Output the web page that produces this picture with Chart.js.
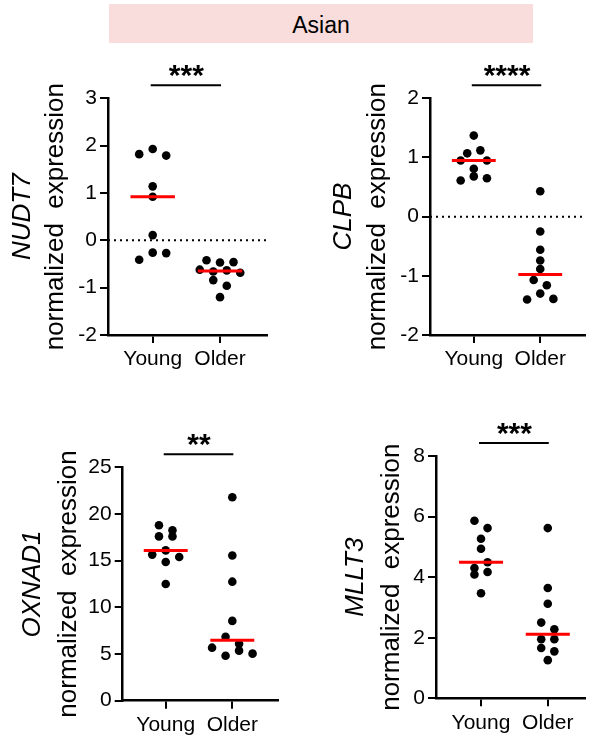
<!DOCTYPE html>
<html><head><meta charset="utf-8">
<script src="https://cdn.jsdelivr.net/npm/chart.js@4.4.1/dist/chart.umd.min.js"></script>
<style>
html,body{margin:0;padding:0;background:#fff;}
body{width:589px;height:738px;position:relative;overflow:hidden;font-family:"Liberation Sans",Arial,sans-serif;}
.banner{position:absolute;left:109px;top:4px;width:424px;height:37px;padding-top:2px;background:#f9dcdc;color:#000;font-size:23px;line-height:39px;text-align:center;}
canvas{position:absolute;}
</style></head><body>
<div class="banner">Asian</div>
<canvas id="c1"></canvas>
<canvas id="c2"></canvas>
<canvas id="c3"></canvas>
<canvas id="c4"></canvas>
<script>
// ---- data ----
const groups = ['Young', 'Older'];
const genes = ['NUDT7', 'CLPB', 'OXNAD1', 'MLLT3'];
const stars = ['***', '****', '**', '***'];
const yMins = [-2, -2, 0, 0];
const yMaxs = [3, 2, 25, 8];
const ySteps = [1, 1, 5, 2];
const nudt7Young = [1.82, 1.93, 1.79, 1.14, 0.92, 0.11, -0.41, -0.26, -0.27];
const nudt7Older = [-0.42, -0.47, -0.46, -0.62, -0.66, -0.635, -0.685, -0.84, -0.96, -1.20];
const clpbYoung = [1.37, 1.07, 1.12, 0.95, 0.81, 0.95, 0.61, 0.68, 0.65];
const clpbOlder = [0.43, -0.25, -0.56, -0.74, -0.885, -1.07, -1.16, -1.40, -1.30, -1.39];
const oxnad1Young = [18.8, 18.25, 17.6, 17.6, 15.65, 16.1, 15.4, 14.85, 12.5];
const oxnad1Older = [21.8, 15.55, 12.75, 8.55, 6.85, 6.1, 5.68, 4.82, 5.36, 5.04];
const mllt3Young = [5.86, 5.62, 5.27, 4.94, 4.30, 4.49, 4.09, 4.17, 3.47];
const mllt3Older = [5.62, 3.64, 3.12, 2.50, 2.28, 1.95, 1.95, 1.66, 1.55, 1.26];
const values = [[nudt7Young, nudt7Older], [clpbYoung, clpbOlder], [oxnad1Young, oxnad1Older], [mllt3Young, mllt3Older]];

// ---- layout (pixels) ----
const FAMILY = '"Liberation Sans", Arial, sans-serif';
const layouts = [
  {id:'c1', box:{x:0, y:40, w:290, h:340}, area:{left:108, top:98.3, right:267, bottom:335}, xMin:0.336, xMax:2.698, titleMid:56, geneMid:22.7},
  {id:'c2', box:{x:320, y:40, w:269, h:340}, area:{left:430, top:98.3, right:589, bottom:335}, xMin:0.341, xMax:2.669, titleMid:377.7, geneMid:344},
  {id:'c3', box:{x:0, y:410, w:290, h:328}, area:{left:122.7, top:467.3, right:278, bottom:700.7}, xMin:0.354, xMax:2.686, titleMid:69.3, geneMid:33},
  {id:'c4', box:{x:320, y:410, w:269, h:328}, area:{left:436, top:456, right:589, bottom:698.3}, xMin:0.326, xMax:2.553, titleMid:392, geneMid:356}
];

function median(arr) {
  const s = arr.slice().sort((a, b) => a - b);
  const n = s.length;
  return n % 2 ? s[(n - 1) / 2] : (s[n / 2 - 1] + s[n / 2]) / 2;
}

// Prism-like row layout: points close in y share a row, centred around the group position
function swarm(vals, pxPerY, thr, step) {
  const idx = vals.map((v, i) => i).sort((a, b) => vals[b] - vals[a]);
  const rows = [];
  let cur = null;
  idx.forEach(i => {
    if (cur && (vals[cur.start] - vals[i]) * pxPerY <= thr) cur.members.push(i);
    else { cur = {start: i, members: [i]}; rows.push(cur); }
  });
  const off = new Array(vals.length).fill(0);
  rows.forEach(r => {
    const m = r.members.slice().sort((a, b) => a - b);
    m.forEach((i, k) => { off[i] = (k - (m.length - 1) / 2) * step; });
  });
  return off;
}

const annoPlugin = {
  id: 'anno',
  afterDraw(chart, args, opts) {
    const {ctx, chartArea} = chart;
    const xs = chart.scales.x;
    // gene name (italic)
    ctx.save();
    ctx.font = 'italic 26px ' + FAMILY;
    ctx.fillStyle = '#000';
    ctx.textAlign = 'center';
    ctx.textBaseline = 'middle';
    ctx.translate(opts.geneX, (chartArea.top + chartArea.bottom) / 2);
    ctx.rotate(-Math.PI / 2);
    ctx.fillText(opts.gene, 0, 0);
    ctx.restore();
    // significance bar + stars
    const x1 = xs.getPixelForValue(1), x2 = xs.getPixelForValue(2);
    ctx.save();
    ctx.strokeStyle = '#000';
    ctx.lineWidth = 2;
    ctx.beginPath();
    ctx.moveTo(x1 - 2, chartArea.top - 13);
    ctx.lineTo(x2 + 1, chartArea.top - 13);
    ctx.stroke();
    ctx.font = 'bold 30px ' + FAMILY;
    ctx.fillStyle = '#000';
    ctx.textAlign = 'center';
    ctx.textBaseline = 'alphabetic';
    const m = ctx.measureText(opts.stars);
    const cy = chartArea.top - 27;
    ctx.fillText(opts.stars, (x1 + x2) / 2, cy + (m.actualBoundingBoxAscent - m.actualBoundingBoxDescent) / 2);
    ctx.restore();
  }
};

layouts.forEach((L, pi) => {
  const canvas = document.getElementById(L.id);
  const {box, area} = L;
  canvas.width = box.w; canvas.height = box.h;
  canvas.style.left = box.x + 'px'; canvas.style.top = box.y + 'px';
  canvas.style.width = box.w + 'px'; canvas.style.height = box.h + 'px';
  const yMin = yMins[pi], yMax = yMaxs[pi];
  const pxPerX = (area.right - area.left) / (L.xMax - L.xMin);
  const pxPerY = (area.bottom - area.top) / (yMax - yMin);

  const datasets = [];
  if (yMin < 0) {
    datasets.push({type: 'line', data: [{x: L.xMin, y: 0}, {x: L.xMax, y: 0}], borderColor: '#000', borderWidth: 2,
      borderDash: [2, 4], pointRadius: 0, fill: false, order: 10});
  }
  groups.forEach((g, gi) => {
    const vals = values[pi][gi];
    const offs = swarm(vals, pxPerY, 8.45, 13.5);
    datasets.push({type: 'scatter', data: vals.map((v, i) => ({x: gi + 1 + offs[i] / pxPerX, y: v})),
      pointRadius: 4.3, pointBackgroundColor: '#000', pointBorderWidth: 0, pointBorderColor: '#000', showLine: false, order: 5});
    const med = median(vals);
    datasets.push({type: 'line', data: [{x: gi + 1 - 0.33, y: med}, {x: gi + 1 + 0.33, y: med}],
      borderColor: '#ff0000', borderWidth: 3, pointRadius: 0, fill: false, order: 1});
  });

  new Chart(canvas, {
    type: 'scatter',
    data: {datasets},
    plugins: [annoPlugin],
    options: {
      responsive: false, animation: false, devicePixelRatio: 1,
      layout: {padding: {left: 0, top: area.top - box.y, right: box.x + box.w - area.right, bottom: 0}},
      plugins: {
        legend: {display: false}, tooltip: {enabled: false},
        anno: {gene: genes[pi], stars: stars[pi], geneX: L.geneMid - box.x}
      },
      scales: {
        x: {
          type: 'linear', min: L.xMin, max: L.xMax,
          afterBuildTicks: s => { s.ticks = groups.map((g, i) => ({value: i + 1})); },
          afterFit: s => { s.height = box.y + box.h - area.bottom; },
          ticks: {callback: (v, i) => groups[i], font: {size: 21, family: FAMILY}, color: '#000', padding: 4, maxRotation: 0, autoSkip: false},
          grid: {drawOnChartArea: false, drawTicks: true, tickLength: 8, lineWidth: 2, color: '#000'},
          border: {display: true, color: '#000', width: 2.5}
        },
        y: {
          type: 'linear', min: yMin, max: yMax,
          afterFit: s => { s.width = area.left - box.x; },
          ticks: {stepSize: ySteps[pi], font: {size: 21, family: FAMILY}, color: '#000', padding: 3},
          grid: {drawOnChartArea: false, drawTicks: true, tickLength: 8, lineWidth: 2, color: '#000'},
          border: {display: true, color: '#000', width: 2.5},
          title: {display: true, text: 'normalized  expression', color: '#000',
            font: {size: 26, family: FAMILY, lineHeight: 1.2},
            padding: {top: L.titleMid - box.x - 15.6, bottom: 0}}
        }
      }
    }
  });
});
</script>
</body></html>
